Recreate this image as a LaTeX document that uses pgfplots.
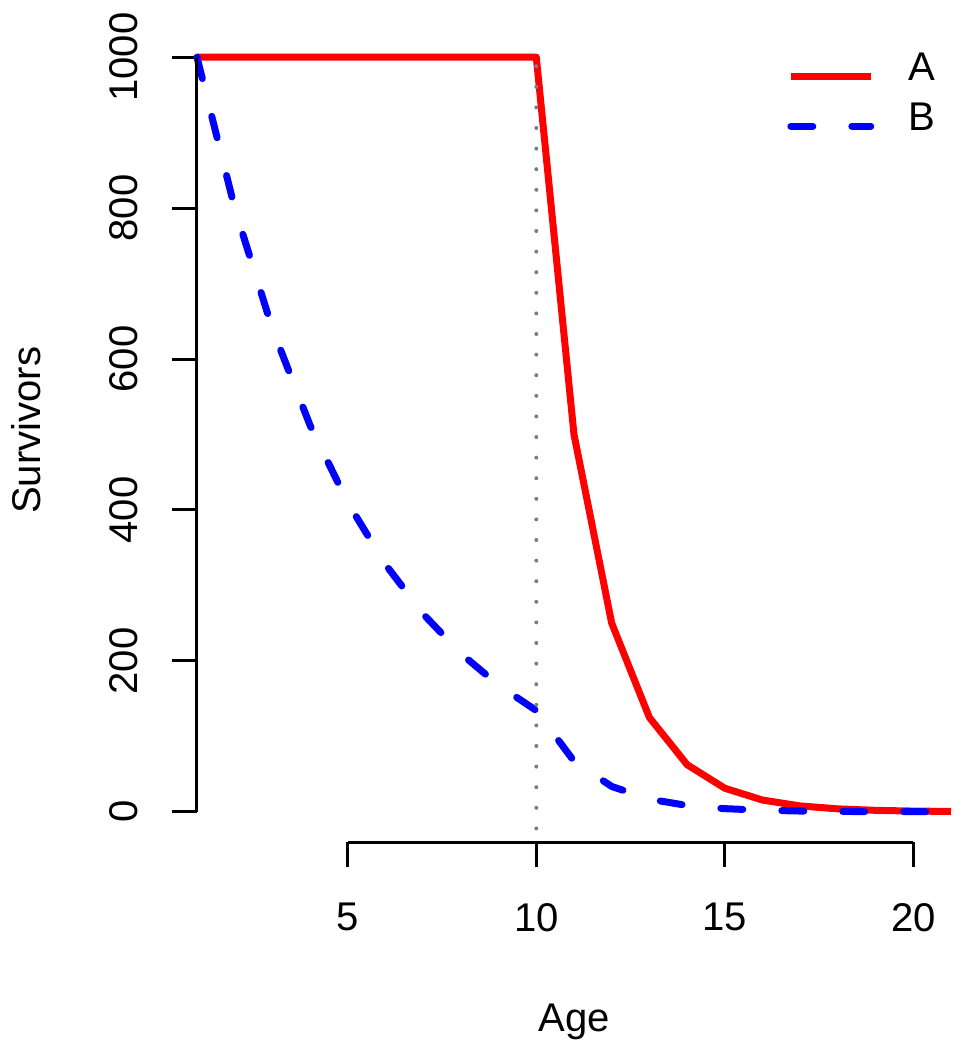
\documentclass[border=0pt]{standalone}
\usepackage{fontspec}
\setmainfont{Liberation Sans}
\usepackage{pgfplots}
\pgfplotsset{compat=1.18}
\definecolor{dotgray}{RGB}{112,128,144}

% survivors by age
\pgfplotstableread{
age A B
1 1000 1000
2 1000 800
3 1000 640
4 1000 512
5 1000 409.6
6 1000 327.7
7 1000 262.1
8 1000 209.7
9 1000 167.8
10 1000 134.2
11 500 67.1
12 250 33.6
13 125 16.8
14 62.5 8.4
15 31.25 4.2
16 15.6 2.1
17 7.8 1.05
18 3.9 0.52
19 1.95 0.26
20 0.98 0.13
21 0.49 0.07
}\surv

\begin{document}
\begin{tikzpicture}[font=\fontsize{11.4}{13.7}\selectfont]
\begin{axis}[
  scale only axis,
  width=75.4mm, height=81.5mm,
  xmin=1, xmax=21, ymin=-40, ymax=1040,
  axis x line*=bottom, axis y line*=left,
  axis line style={draw=none},
  xtick={5,10,15,20}, ytick={0,200,...,1000},
  tick align=outside, major tick length=2.5mm,
  tick style={black, line width=0.3mm},
  /pgf/number format/assume math mode=true,
  /pgf/number format/1000 sep={},
  yticklabel style={rotate=90, anchor=base},
  yticklabel shift=3.4mm, xticklabel shift=2.4mm,
  xlabel={Age}, ylabel={Survivors},
  xlabel style={at={(axis description cs:0.5,-0.2331)}, anchor=base},
  ylabel style={at={(axis description cs:-0.2082,0.505)}, anchor=base},
  clip=false,
  legend style={draw=none, fill=none, at={(rel axis cs:0.782,0.909)}, anchor=west,
    inner sep=0pt, column sep=3.4mm,
    nodes={inner sep=0pt, text height=2.9mm, text depth=2.1mm}},
  legend image code/.code={\draw[#1] (0mm,0mm) -- (8mm,0mm);},
]
\addplot[red, line width=0.7mm, line join=round] table[x=age, y=A] {\surv};
\addlegendentry{A}
\addplot[blue, line width=0.7mm, line join=round, line cap=round,
  dash pattern=on 2.2mm off 3.9mm] table[x=age, y=B] {\surv};
\addlegendentry{B}
\addplot[dotgray, line width=0.4mm, line cap=round, dash pattern=on 0pt off 2.06mm, forget plot]
  coordinates {(10,-22) (10,1015)};
\draw[black, line width=0.3mm] (axis cs:5,-40) -- (axis cs:20,-40);
\draw[black, line width=0.3mm] (axis cs:1,0) -- (axis cs:1,1000);
\end{axis}
\pgfresetboundingbox
\path[use as bounding box] ([shift={(-19.7mm,-20.8mm)}]current axis.south west)
  rectangle ([shift={(1.6mm,2.7mm)}]current axis.north east);
\end{tikzpicture}
\end{document}
